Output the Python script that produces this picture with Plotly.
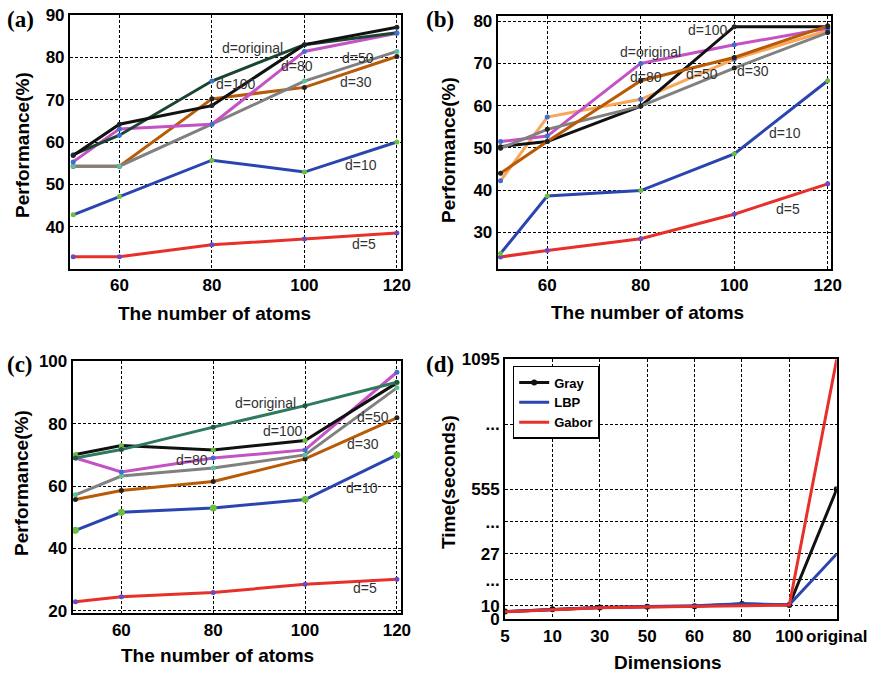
import numpy as np
import plotly.graph_objects as go

# ---------------- data ----------------
atoms = [50, 60, 80, 100, 120]

# (a)
a_d5 = [32.9, 32.9, 35.7, 37.1, 38.5]
a_d10 = [42.8, 47.1, 55.7, 52.9, 60.0]
a_d30 = [54.3, 54.3, 70.2, 72.9, 80.2]
a_d50 = [54.3, 54.3, 64.2, 74.4, 81.4]
a_d80 = [55.3, 63.1, 64.2, 81.4, 85.7]
a_d100 = [56.8, 64.2, 68.6, 83.0, 87.1]
a_dorig = [57.0, 61.6, 74.4, 83.0, 85.8]

# (b)
b_d5 = [24.2, 25.7, 28.5, 34.3, 41.5]
b_d10 = [25.0, 38.6, 39.9, 48.6, 65.9]
b_d30 = [49.9, 54.4, 59.9, 68.9, 77.3]
b_d50 = [42.2, 57.3, 61.5, 71.0, 77.8]
b_d80 = [44.0, 51.5, 65.9, 71.4, 78.9]
b_d100 = [50.3, 51.5, 59.9, 78.7, 78.7]
b_dorig = [51.5, 52.8, 70.0, 74.4, 78.3]

# (c)
c_d5 = [22.9, 24.5, 25.9, 28.5, 30.1]
c_d10 = [45.8, 51.6, 53.0, 55.7, 70.0]
c_d30 = [55.7, 58.6, 61.5, 68.7, 81.9]
c_d50 = [57.2, 63.2, 65.8, 70.0, 91.5]
c_d80 = [69.0, 64.5, 69.0, 71.6, 96.5]
c_d100 = [70.1, 73.0, 71.6, 74.6, 93.1]
c_dorig = [69.0, 71.7, 78.9, 85.8, 93.3]

# (d)
dims = ["5", "10", "30", "50", "60", "80", "100", "original"]
t_gray = [5.8, 7.5, 8.8, 9.4, 9.8, 10.6, 10.3, 555]
t_lbp = [5.8, 7.4, 8.8, 9.6, 10.1, 10.7, 10.4, 27]
t_gabor = [5.6, 7.3, 8.6, 9.2, 9.6, 10.2, 10.3, 1095]
time_ticks = [0, 10, 27, 555, 1095]

# ---------------- styling ----------------
RED = "#e8302a"
BLUE = "#2b45b0"
BROWN = "#b85a06"
GRAY = "#808080"
MAGENTA = "#c452c4"
BLACK = "#111111"
DKGREEN = "#1b4530"
GREEN = "#2f7a5c"
LTORANGE = "#f7a65a"

MK_PURPLE = "#6a4bc0"
MK_GREEN = "#6cbf3c"
MK_BLUE = "#3d6fd0"
MK_BLACK = "#222222"
MK_TEAL = "#5fbf9a"

SANS = "Liberation Sans"
SERIF = "Liberation Serif"
LW = 3

fig = go.Figure()


def add_line(x, y, color, mcolor, name, axis, showlegend=False, msize=5):
    fig.add_trace(go.Scatter(
        x=x, y=y, mode="lines+markers", name=name,
        line=dict(color=color, width=LW),
        marker=dict(color=mcolor, size=msize),
        xaxis="x" + axis, yaxis="y" + axis,
        showlegend=showlegend,
    ))


# (a)
add_line(atoms, a_d5, RED, MK_PURPLE, "d=5", "")
add_line(atoms, a_d10, BLUE, MK_GREEN, "d=10", "")
add_line(atoms, a_d30, BROWN, MK_BLACK, "d=30", "")
add_line(atoms, a_d50, GRAY, MK_TEAL, "d=50", "")
add_line(atoms, a_d80, MAGENTA, MK_BLUE, "d=80", "")
add_line(atoms, a_dorig, DKGREEN, MK_BLUE, "d=original", "")
add_line(atoms, a_d100, BLACK, MK_BLACK, "d=100", "")

# (b)
add_line(atoms, b_d5, RED, MK_PURPLE, "d=5", "2")
add_line(atoms, b_d10, BLUE, MK_GREEN, "d=10", "2")
add_line(atoms, b_d50, LTORANGE, MK_BLUE, "d=50", "2")
add_line(atoms, b_dorig, MAGENTA, MK_BLUE, "d=original", "2")
add_line(atoms, b_d100, BLACK, MK_BLACK, "d=100", "2")
add_line(atoms, b_d30, GRAY, MK_BLACK, "d=30", "2")
add_line(atoms, b_d80, BROWN, MK_BLACK, "d=80", "2")

# (c)
add_line(atoms, c_d5, RED, MK_PURPLE, "d=5", "3")
add_line(atoms, c_d10, BLUE, MK_GREEN, "d=10", "3", msize=7)
add_line(atoms, c_d30, BROWN, MK_BLACK, "d=30", "3")
add_line(atoms, c_d50, GRAY, MK_TEAL, "d=50", "3")
add_line(atoms, c_d80, MAGENTA, MK_BLUE, "d=80", "3")
add_line(atoms, c_d100, BLACK, MK_GREEN, "d=100", "3")
add_line(atoms, c_dorig, GREEN, "#1f5a40", "d=original", "3")

# (d) broken time axis: each tick value gets its own slot on the axis
tick_slots = [0, 40, 196, 390, 780]


def to_axis(v):
    return np.interp(v, time_ticks, tick_slots)


dim_idx = list(range(len(dims)))
fig.add_trace(go.Scatter(x=dim_idx, y=to_axis(t_gray), mode="lines+markers", name="Gray",
                         line=dict(color=BLACK, width=LW), marker=dict(color=BLACK, size=6),
                         xaxis="x4", yaxis="y4", customdata=t_gray,
                         hovertemplate="%{customdata} s<extra>Gray</extra>"))
fig.add_trace(go.Scatter(x=dim_idx, y=to_axis(t_lbp), mode="lines", name="LBP",
                         line=dict(color=BLUE, width=LW),
                         xaxis="x4", yaxis="y4", customdata=t_lbp,
                         hovertemplate="%{customdata} s<extra>LBP</extra>"))
fig.add_trace(go.Scatter(x=dim_idx, y=to_axis(t_gabor), mode="lines", name="Gabor",
                         line=dict(color=RED, width=LW),
                         xaxis="x4", yaxis="y4", customdata=t_gabor,
                         hovertemplate="%{customdata} s<extra>Gabor</extra>"))

# ---------------- axes ----------------
tickfont = dict(family=SANS, size=17, color="black", weight="bold")
common = dict(showline=True, linecolor="black", linewidth=2, mirror=True,
              showgrid=True, gridcolor="black", gridwidth=1, griddash="3px,2px",
              zeroline=False, ticks="", tickfont=tickfont, automargin=False,
              tickangle=0)

fig.update_layout(
    width=880, height=673,
    margin=dict(l=0, r=0, t=0, b=0, autoexpand=False),
    paper_bgcolor="white", plot_bgcolor="white",
    showlegend=True,
    legend=dict(x=0.5826, y=0.4562, xanchor="left", yanchor="top",
                bordercolor="black", borderwidth=1.5, bgcolor="white",
                font=dict(family=SANS, size=13, color="black", weight="bold"),
                tracegroupgap=0, itemwidth=30),
    xaxis=dict(domain=[0.0795, 0.4557], range=[49.3, 120.9],
               tickvals=[60, 80, 100, 120], anchor="y", **common),
    yaxis=dict(domain=[0.6003, 0.9777], range=[30, 90],
               tickvals=[40, 50, 60, 70, 80, 90], anchor="x", **common),
    xaxis2=dict(domain=[0.5656, 0.9443], range=[49.4, 120.7],
                tickvals=[60, 80, 100, 120], anchor="y2", **common),
    yaxis2=dict(domain=[0.6007, 0.9767], range=[21.4, 81.3],
                tickvals=[30, 40, 50, 60, 70, 80], anchor="x2", **common),
    xaxis3=dict(domain=[0.0826, 0.4557], range=[49.4, 120.9],
                tickvals=[60, 80, 100, 120], anchor="y3", **common),
    yaxis3=dict(domain=[0.0887, 0.4640], range=[19.2, 100.2],
                tickvals=[20, 40, 60, 80, 100], anchor="x3", **common),
    xaxis4=dict(domain=[0.5739, 0.9508], range=[0, 7],
                tickvals=dim_idx, ticktext=dims, anchor="y4", **common),
    yaxis4=dict(domain=[0.0798, 0.4661], range=[0, 780],
                tickvals=[0, 40, 118, 196, 293, 390, 585, 780],
                ticktext=["0", "10", "...", "27", "...", "555", "...", "1095"],
                anchor="x4", **common),
)

# ---------------- text ----------------
ann = []


def text(x, y, s, ref, size=14, color="#333333", family=SANS, bold=False, angle=0):
    xr, yr = ("paper", "paper") if ref == "paper" else ("x" + ref, "y" + ref)
    ann.append(dict(x=x, y=y, xref=xr, yref=yr, text=s, showarrow=False,
                    textangle=angle, xanchor="center", yanchor="middle",
                    font=dict(family=family, size=size, color=color,
                              weight="bold" if bold else "normal")))


# curve labels (a)
for s, x, y in [("d=original", 88.8, 82.1), ("d=80", 98.5, 77.9), ("d=100", 85.3, 73.6),
                ("d=50", 111.7, 79.8), ("d=30", 111.2, 74.1), ("d=10", 112.3, 54.6),
                ("d=5", 113.0, 36.0)]:
    text(x, y, s, "")
# curve labels (b)
for s, x, y in [("d=100", 94.4, 77.8), ("d=original", 82.0, 72.8), ("d=80", 81.1, 66.9),
                ("d=50", 93.0, 67.5), ("d=30", 104.1, 68.1), ("d=10", 110.8, 53.5),
                ("d=5", 111.5, 35.5)]:
    text(x, y, s, "2")
# curve labels (c)
for s, x, y in [("d=original", 91.3, 86.6), ("d=100", 95.2, 77.6), ("d=80", 75.4, 68.4),
                ("d=50", 114.9, 82.3), ("d=30", 112.6, 73.5), ("d=10", 112.5, 59.4),
                ("d=5", 113.0, 27.4)]:
    text(x, y, s, "3")

W, H = 880, 673


def px(x, y):
    return x / W, 1 - y / H


# panel tags
for s, (x, y) in [("(a)", (20, 19)), ("(b)", (440, 19)), ("(c)", (20, 364)), ("(d)", (440, 364))]:
    pxx, pyy = px(x, y)
    text(pxx, pyy, s, "paper", size=23, color="black", family=SERIF, bold=True)

# axis titles
for s, (x, y) in [("The number of atoms", (214, 313)), ("The number of atoms", (647, 312)),
                  ("The number of atoms", (217, 655)), ("Dimensions", (668, 662))]:
    pxx, pyy = px(x, y)
    text(pxx, pyy, s, "paper", size=19, color="black", bold=True)
for s, (x, y) in [("Performance(%)", (22, 145)), ("Performance(%)", (448, 150)),
                  ("Performance(%)", (21, 483)), ("Time(seconds)", (448, 482))]:
    pxx, pyy = px(x, y)
    text(pxx, pyy, s, "paper", size=19, color="black", bold=True, angle=-90)

fig.update_layout(annotations=ann)

fig.write_html("out.html")
